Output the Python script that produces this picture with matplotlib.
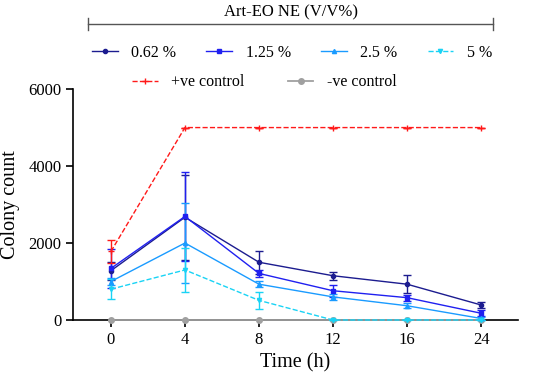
import numpy as np
import matplotlib
matplotlib.use('Agg')
import matplotlib.pyplot as plt
from matplotlib.lines import Line2D

# --- data ---
time_labels = ['0', '4', '8', '12', '16', '24']

conc_062 = [1280, 2670, 1500, 1150, 930, 390]
err_062 = [230, 1100, 300, 100, 240, 90]

conc_125 = [1340, 2690, 1210, 760, 580, 175]
err_125 = [500, 1150, 100, 150, 80, 80]

conc_25 = [1000, 2000, 930, 600, 370, 40]
err_25 = [100, 1050, 80, 80, 70, 30]

conc_5 = [800, 1300, 510, 0, 0, 0]
err_5 = [260, 560, 230, 0, 0, 0]

pos_ctrl = [1780, 5000, 5000, 5000, 5000, 5000]
err_pos = [290, 0, 0, 0, 0, 0]

neg_ctrl = [0, 0, 0, 0, 0, 0]

plt.rcParams['font.family'] = ['Liberation Serif', 'DejaVu Serif']

fig = plt.figure(figsize=(5.5, 3.84), dpi=100)
ax = fig.add_axes([0.133, 0.1667, 0.809, 0.6013])

x = np.arange(len(time_labels))

series = [
    (conc_062, err_062, '#1c1c8f', '-', 'o', '0.62 %'),
    (conc_125, err_125, '#2020f0', '-', 's', '1.25 %'),
    (conc_25, err_25, '#1a9bff', '-', '^', '2.5 %'),
    (conc_5, err_5, '#19d3f5', '--', 'v', '5 %'),
]

handles = []
# -ve control sits right on the x axis, draw it above the spine
ax.plot(x, neg_ctrl, color='#a0a0a0', lw=1.3, marker='o', ms=4, zorder=2.8, clip_on=False)
for vals, errs, col, ls, mk, lab in series:
    ax.errorbar(x, vals, yerr=errs, color=col, ls=ls, lw=1.0, marker=mk, ms=3,
                capsize=3, elinewidth=1.0, capthick=1.0, zorder=3, clip_on=False)
    handles.append(Line2D([], [], color=col, ls=ls, lw=1.0, marker=mk, ms=3, label=lab))
ax.errorbar(x, pos_ctrl, yerr=err_pos, color='#ff1a1a', ls='--', lw=1.0, marker='+', ms=4,
            capsize=3, elinewidth=1.0, capthick=1.0, zorder=3)

ctrl_handles = [
    Line2D([], [], color='#ff1a1a', ls='--', lw=1.0, marker='+', ms=4, label='+ve control'),
    Line2D([], [], color='#a0a0a0', ls='-', lw=1.3, marker='o', ms=4, label='-ve control'),
]

ax.set_xlim(-0.51, 5.5)
ax.set_ylim(0, 6000)
ax.set_xticks(x)
ax.set_xticklabels(time_labels)
ax.set_yticks([0, 2000, 4000, 6000])
ax.spines['top'].set_visible(False)
ax.spines['right'].set_visible(False)
ax.spines['left'].set_linewidth(1.2)
ax.spines['bottom'].set_linewidth(1.2)
ax.tick_params(axis='both', labelsize=12, width=1.2, length=5, direction='out')
ax.set_xlabel('Time (h)', fontsize=14.5)
ax.set_ylabel('Colony count', fontsize=14.5, labelpad=6)

# bracket with group title
fig.add_artist(Line2D([0.16, 0.896], [0.938, 0.938], color='#555555', lw=1.0))
for xe in (0.16, 0.896):
    fig.add_artist(Line2D([xe, xe], [0.922, 0.954], color='#555555', lw=1.0))
fig.text(0.53, 0.948, 'Art-EO NE (V/V%)', ha='center', va='bottom', fontsize=12)

fig.legend(handles=handles, loc='center', bbox_to_anchor=(0.531, 0.862), ncol=4,
           frameon=False, fontsize=11.5, columnspacing=1.9, handlelength=1.6, handletextpad=0.85)
fig.legend(handles=ctrl_handles, loc='center', bbox_to_anchor=(0.481, 0.786), ncol=2,
           frameon=False, fontsize=11.5, columnspacing=2.7, handlelength=1.6, handletextpad=0.85)

fig.savefig('out.png', dpi=100)
